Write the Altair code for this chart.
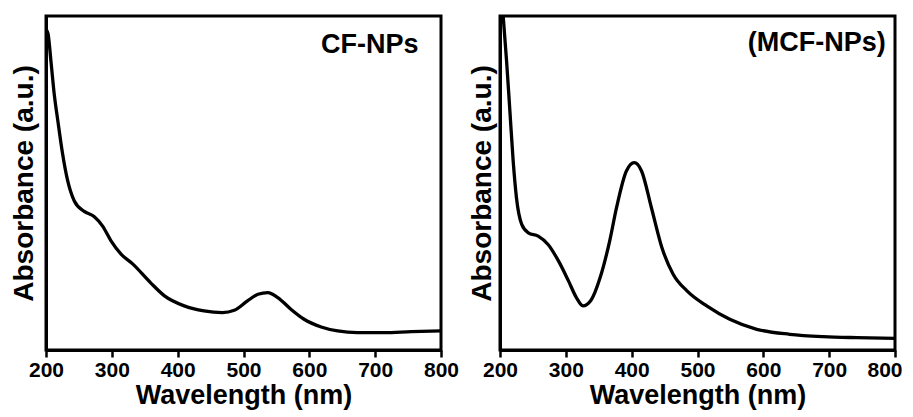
import altair as alt
import pandas as pd

# CF-NPs spectrum (wavelength nm, absorbance a.u. normalised to panel)
cf_nm = [200, 203, 207.5, 212.5, 218, 225, 233, 243, 258, 273, 286, 299, 314, 332,
         359, 380, 410, 440, 468, 486, 506, 522, 537, 552, 572, 592, 618, 643, 673,
         714, 755, 800]
cf_abs = [0.960, 0.948, 0.865, 0.766, 0.686, 0.590, 0.506, 0.446, 0.415, 0.400, 0.371,
          0.326, 0.287, 0.257, 0.201, 0.162, 0.132, 0.117, 0.112, 0.119, 0.147, 0.167,
          0.172, 0.157, 0.122, 0.092, 0.069, 0.057, 0.052, 0.052, 0.055, 0.057]

# MCF-NPs spectrum
mcf_nm = [200, 205, 210, 215, 220, 225, 233, 243, 258, 273, 289, 304, 316, 326, 338,
          352, 367, 377, 392, 404, 415, 430, 446, 463, 484, 514, 549, 590, 640, 691,
          742, 800]
mcf_abs = [1.10, 0.995, 0.865, 0.716, 0.566, 0.456, 0.376, 0.351, 0.341, 0.316, 0.266,
           0.207, 0.157, 0.132, 0.148, 0.216, 0.330, 0.426, 0.536, 0.561, 0.536, 0.426,
           0.306, 0.227, 0.177, 0.132, 0.092, 0.062, 0.047, 0.040, 0.037, 0.035]

labels = ["CF-NPs", "(MCF-NPs)"]
label_nm = [766, 786]
label_abs = [0.889, 0.895]

x_ticks = list(range(200, 801, 50))
FONT = "Liberation Sans"


def panel(nm, ab, label, lx, ly, ypad, last_right):
    df = pd.DataFrame({"nm": nm, "abs": ab})
    extra = {}
    if last_right:
        extra = dict(
            labelAlign={"condition": {"test": "datum.value === 800", "value": "right"}, "value": "center"},
            labelOffset={"condition": {"test": "datum.value === 800", "value": 7}, "value": 0},
        )
    x = alt.X(
        "nm:Q",
        scale=alt.Scale(domain=[200, 800], nice=False, zero=False),
        axis=alt.Axis(
            values=x_ticks,
            labelExpr="datum.value % 100 === 0 ? datum.label : ''",
            tickSize={"condition": {"test": "datum.value % 100 === 0", "value": 7}, "value": 4},
            labelFlush=False,
            labelOverlap=False,
            title="Wavelength (nm)",
            **extra,
        ),
    )
    y = alt.Y(
        "abs:Q",
        scale=alt.Scale(domain=[0, 1], nice=False, zero=False),
        axis=alt.Axis(labels=False, ticks=False, title="Absorbance (a.u.)", titlePadding=ypad),
    )
    line = alt.Chart(df).mark_line(
        color="black", strokeWidth=3.3, interpolate="monotone", clip=True
    ).encode(x=x, y=y)
    tdf = pd.DataFrame({"nm": [lx], "abs": [ly], "label": [label]})
    text = alt.Chart(tdf).mark_text(
        align="right", baseline="alphabetic", fontSize=27, fontWeight="bold",
        font=FONT, color="black"
    ).encode(x="nm:Q", y="abs:Q", text="label:N")
    return alt.layer(line, text).properties(width=395, height=334)


left = panel(cf_nm, cf_abs, labels[0], label_nm[0], label_abs[0], 8, False)
right = panel(mcf_nm, mcf_abs, labels[1], label_nm[1], label_abs[1], 4, True)

chart = alt.hconcat(left, right, spacing=5).properties(
    padding={"left": 0, "top": 6, "right": 0, "bottom": 0}
).configure_view(
    stroke="black", strokeWidth=3
).configure_axis(
    grid=False,
    domainColor="black",
    domainWidth=3,
    tickColor="black",
    tickWidth=2.5,
    labelFont=FONT,
    labelFontSize=21,
    labelFontWeight="bold",
    labelColor="black",
    labelPadding=2,
    titleFont=FONT,
    titleFontWeight="bold",
    titleColor="black",
).configure_axisX(
    titlePadding=2,
    titleFontSize=27,
).configure_axisY(
    titleFontSize=28,
)

chart.save("out.html", embed_options={"renderer": "svg", "actions": False})
